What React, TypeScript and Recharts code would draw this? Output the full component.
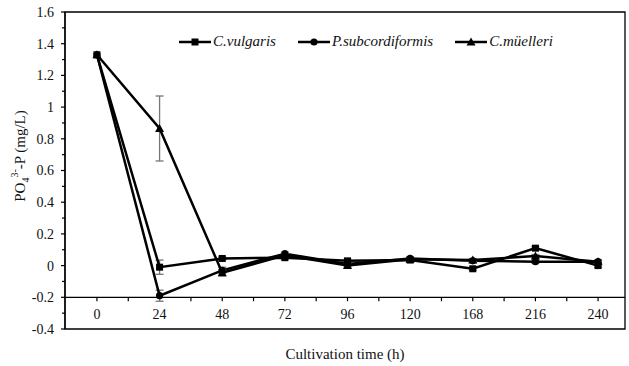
import { ErrorBar, Line, LineChart, ReferenceArea, ReferenceLine, XAxis, YAxis } from "recharts";

const times = ["0", "24", "48", "72", "96", "120", "168", "216", "240"];
const cVulgaris = [1.33, -0.01, 0.045, 0.05, 0.03, 0.035, -0.02, 0.11, 0.0];
const cVulgarisErr = [0, 0.045, 0.01, 0.01, 0.01, 0.01, 0.01, 0.01, 0.01];
const pSub = [1.33, -0.19, -0.03, 0.075, 0.01, 0.045, 0.03, 0.025, 0.025];
const pSubErr = [0, 0.035, 0.02, 0.01, 0.01, 0.01, 0.01, 0.01, 0.01];
const cMue = [1.33, 0.865, -0.045, 0.065, 0.0, 0.04, 0.035, 0.06, 0.025];
const cMueErr = [0, 0.205, 0.02, 0.01, 0.01, 0.01, 0.01, 0.01, 0.01];

const yTicks = [-0.4, -0.3, -0.2, -0.1, 0, 0.1, 0.2, 0.3, 0.4, 0.5, 0.6, 0.7, 0.8, 0.9, 1, 1.1, 1.2, 1.3, 1.4, 1.5, 1.6];
const xTickMarks = [0, 0.5, 1, 1.5, 2, 2.5, 3, 3.5, 4, 4.5, 5, 5.5, 6, 6.5, 7, 7.5, 8];

const data = times.map((t, i) => ({
  idx: i,
  time: t,
  cVulgaris: cVulgaris[i],
  cVulgarisErr: cVulgarisErr[i],
  pSub: pSub[i],
  pSubErr: pSubErr[i],
  cMue: cMue[i],
  cMueErr: cMueErr[i],
}));

const FONT = '"Liberation Serif", "Times New Roman", serif';
const X_DOMAIN: [number, number] = [-0.51, 8.43];

function SquareDot(p: any) {
  if (p.cx == null || p.cy == null) return null;
  return <rect key={`sq-${p.index}`} x={p.cx - 3.5} y={p.cy - 3.5} width={7} height={7} fill="#000" />;
}

function CircleDot(p: any) {
  if (p.cx == null || p.cy == null) return null;
  return <circle key={`ci-${p.index}`} cx={p.cx} cy={p.cy} r={3.6} fill="#000" />;
}

function TriangleDot(p: any) {
  if (p.cx == null || p.cy == null) return null;
  const { cx, cy } = p;
  return <polygon key={`tr-${p.index}`} points={`${cx},${cy - 4.5} ${cx - 4.5},${cy + 3.5} ${cx + 4.5},${cy + 3.5}`} fill="#000" />;
}

function YTick({ x, y, payload }: any) {
  const v = Number(payload.value.toFixed(1));
  const major = Math.round(v * 10) % 2 === 0;
  return (
    <g>
      <line x1={x - (major ? 4 : 3)} x2={x} y1={y} y2={y} stroke="#000" strokeWidth={1.2} />
      {major && (
        <text x={x - 11} y={y} dy="0.35em" textAnchor="end" fontFamily={FONT} fontSize={14} fill="#111">
          {String(v)}
        </text>
      )}
    </g>
  );
}

function XTick({ x, y, payload }: any) {
  return (
    <text x={x} y={y - 15} dy="0.35em" textAnchor="middle" fontFamily={FONT} fontSize={14} fill="#111">
      {times[payload.value]}
    </text>
  );
}

function LegendMark({ kind }: { kind: "sq" | "ci" | "tr" }) {
  return (
    <svg width={32} height={12} style={{ display: "block" }}>
      <line x1={0} x2={32} y1={6} y2={6} stroke="#000" strokeWidth={2.5} />
      {kind === "sq" && <rect x={12.5} y={2.5} width={7} height={7} fill="#000" />}
      {kind === "ci" && <circle cx={16} cy={6} r={3.6} fill="#000" />}
      {kind === "tr" && <polygon points="16,1.5 11.5,9.5 20.5,9.5" fill="#000" />}
    </svg>
  );
}

function LegendBox() {
  const items: { kind: "sq" | "ci" | "tr"; label: string }[] = [
    { kind: "sq", label: "C.vulgaris" },
    { kind: "ci", label: "P.subcordiformis" },
    { kind: "tr", label: "C.müelleri" },
  ];
  return (
    <div style={{ position: "absolute", left: 179, top: 33, display: "flex", alignItems: "center", gap: 22 }}>
      {items.map((it) => (
        <div key={it.label} style={{ display: "flex", alignItems: "center" }}>
          <LegendMark kind={it.kind} />
          <span style={{ fontFamily: FONT, fontStyle: "italic", fontSize: 15, marginLeft: 2, color: "#111" }}>{it.label}</span>
        </div>
      ))}
    </div>
  );
}

function YLabel() {
  return (
    <text transform="rotate(-90, 20, 156)" x={20} y={156} textAnchor="middle" dominantBaseline="central" fontFamily={FONT} fontSize={15} fill="#111">
      PO
      <tspan baselineShift="sub" fontSize={10}>4</tspan>
      <tspan baselineShift="super" fontSize={10}>3-</tspan>
      <tspan>-P (mg/L)</tspan>
    </text>
  );
}

export default function App() {
  return (
    <div style={{ position: "absolute", left: 0, top: 0, width: 629, height: 366, background: "#fff" }}>
      <LineChart width={629} height={366} data={data} margin={{ top: 12, right: 4, bottom: 0, left: 0 }}>
        <ReferenceArea x1={X_DOMAIN[0]} x2={X_DOMAIN[1]} y1={-0.4} y2={1.6} fill="none" stroke="#000" strokeWidth={1.3} ifOverflow="visible" />
        <ReferenceLine y={-0.2} stroke="#000" strokeWidth={1.3} />
        {xTickMarks.map((t) => (
          <ReferenceLine
            key={t}
            segment={[
              { x: t, y: -0.2 },
              { x: t, y: -0.225 },
            ]}
            stroke="#000"
            strokeWidth={1.2}
            ifOverflow="visible"
          />
        ))}
        <XAxis
          dataKey="idx"
          type="number"
          domain={X_DOMAIN}
          allowDataOverflow
          ticks={[0, 1, 2, 3, 4, 5, 6, 7, 8]}
          tick={<XTick />}
          tickLine={false}
          axisLine={false}
          tickSize={0}
          tickMargin={0}
          height={37}
          label={{ value: "Cultivation time (h)", position: "insideBottom", offset: 7, fontFamily: FONT, fontSize: 15, fill: "#111" }}
        />
        <YAxis
          type="number"
          domain={[-0.4, 1.6]}
          allowDataOverflow
          ticks={yTicks}
          interval={0}
          tick={<YTick />}
          tickLine={false}
          tickSize={0}
          tickMargin={0}
          width={65}
          axisLine={{ stroke: "#000", strokeWidth: 1.3 }}
          label={{ content: () => <YLabel /> }}
        />
        <Line dataKey="cVulgaris" name="C.vulgaris" stroke="#000" strokeWidth={2.5} dot={SquareDot} activeDot={false} isAnimationActive={false}>
          <ErrorBar dataKey="cVulgarisErr" width={4} stroke="#777" strokeWidth={1.3} direction="y" />
        </Line>
        <Line dataKey="pSub" name="P.subcordiformis" stroke="#000" strokeWidth={2.5} dot={CircleDot} activeDot={false} isAnimationActive={false}>
          <ErrorBar dataKey="pSubErr" width={4} stroke="#777" strokeWidth={1.3} direction="y" />
        </Line>
        <Line dataKey="cMue" name="C.müelleri" stroke="#000" strokeWidth={2.5} dot={TriangleDot} activeDot={false} isAnimationActive={false}>
          <ErrorBar dataKey="cMueErr" width={4} stroke="#777" strokeWidth={1.3} direction="y" />
        </Line>
      </LineChart>
      <LegendBox />
    </div>
  );
}
